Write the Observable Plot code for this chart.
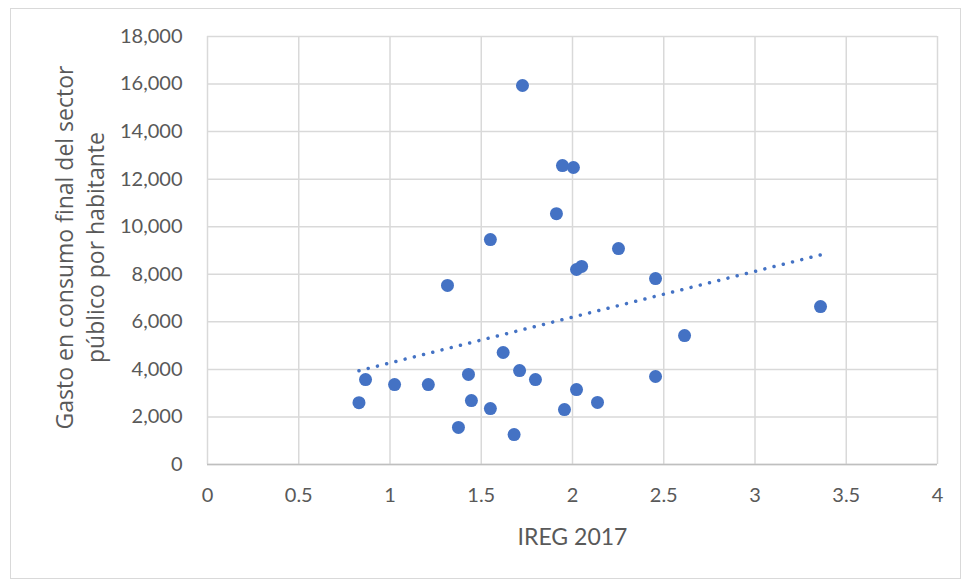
<!DOCTYPE html>
<html>
<head>
<meta charset="utf-8">
<script src="https://cdn.jsdelivr.net/npm/d3@7"></script>
<script src="https://cdn.jsdelivr.net/npm/@observablehq/plot@0.6"></script>
<style>
  html, body { margin: 0; padding: 0; background: #fff; }
  #wrap { position: relative; width: 966px; height: 585px; }
  #frame { position: absolute; left: 10px; top: 8px; width: 951px; height: 571px; border: 1px solid #d9d9d9; box-sizing: border-box; }
  #chart { position: absolute; left: 0; top: 0; }
</style>
</head>
<body>
<div id="wrap"><div id="frame"></div><div id="chart"></div></div>
<script>
const ireg = [0.83, 0.866, 1.025, 1.21, 1.315, 1.43, 1.446, 1.375, 1.55, 1.55, 1.62, 1.68, 1.71, 1.726, 1.797, 1.912, 1.945, 1.956, 2.005, 2.022, 2.022, 2.05, 2.137, 2.252, 2.455, 2.455, 2.614, 3.359];
const gasto = [2600, 3570, 3360, 3360, 7530, 3790, 2690, 1560, 9460, 2350, 4710, 1260, 3950, 15940, 3570, 10550, 12570, 2310, 12490, 3150, 8200, 8330, 2610, 9080, 7820, 3700, 5420, 6640];
const xTicks = [0, 0.5, 1, 1.5, 2, 2.5, 3, 3.5, 4];
const yTicks = [0, 2000, 4000, 6000, 8000, 10000, 12000, 14000, 16000, 18000];
const xLabel = "IREG 2017";
const yLabel = "Gasto en consumo final del sector\npúblico por habitante";

const data = ireg.map((x, i) => ({x, y: gasto[i]}));

const chart = Plot.plot({
  width: 966,
  height: 585,
  marginLeft: 207,
  marginRight: 29,
  marginTop: 36,
  marginBottom: 121,
  style: {fontFamily: "Lato, 'Open Sans', sans-serif", fontSize: "20px", color: "#595959", background: "transparent"},
  x: {domain: [0, 4], ticks: xTicks},
  y: {domain: [0, 18000], ticks: yTicks},
  marks: [
    Plot.gridX(xTicks, {stroke: "#d9d9d9", strokeOpacity: 1, strokeWidth: 1.5}),
    Plot.gridY(yTicks, {stroke: "#d9d9d9", strokeOpacity: 1, strokeWidth: 1.5}),
    Plot.ruleY([0], {stroke: "#bfbfbf", strokeWidth: 1.5}),
    Plot.axisX(xTicks, {tickSize: 0, tickPadding: 23, fill: "#595959", fontSize: 20, tickFormat: d => String(d), label: null}),
    Plot.axisY(yTicks, {tickSize: 0, tickPadding: 25, fill: "#595959", fontSize: 20, tickFormat: d3.format(","), label: null}),
    Plot.text([xLabel], {frameAnchor: "bottom", dy: 80, fontSize: 23, fill: "#595959", lineAnchor: "bottom"}),
    Plot.text([yLabel], {frameAnchor: "left", dx: -129, dy: -3, rotate: -90, fontSize: 23, lineHeight: 1.33,
      fontFamily: "'Open Sans', sans-serif", fill: "#595959", textAnchor: "middle"}),
    Plot.linearRegressionY(data, {x: "x", y: "y", ci: 0, stroke: "#4472c4", strokeWidth: 3.5,
      strokeDasharray: "0.01 9.5", strokeLinecap: "round"}),
    Plot.dot(data, {x: "x", y: "y", r: 6.5, fill: "#4472c4", stroke: "none"})
  ]
});
document.getElementById("chart").appendChild(chart);
</script>
</body>
</html>
